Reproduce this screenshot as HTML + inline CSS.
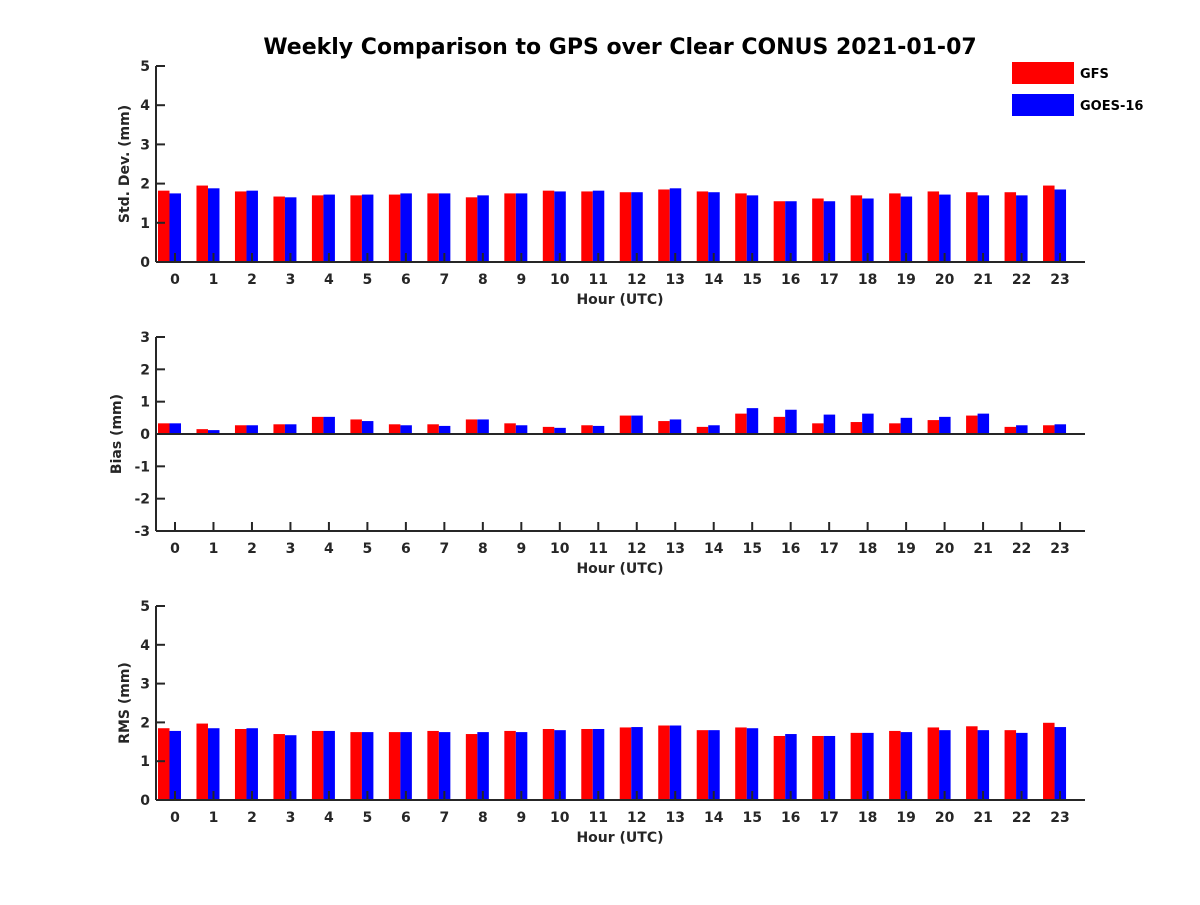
<!DOCTYPE html>
<html><head><meta charset="utf-8"><style>
body{margin:0;background:#fff}
svg text{font-family:"DejaVu Sans","Liberation Sans",sans-serif;font-weight:bold;fill:#262626}
</style></head><body>
<svg id="c" width="1200" height="900" xmlns="http://www.w3.org/2000/svg">
<text x="620" y="54" text-anchor="middle" style="font-size:22px;fill:#000">Weekly Comparison to GPS over Clear CONUS 2021-01-07</text>
<g>
<rect x="1012" y="62" width="62" height="22" fill="#ff0000"/>
<text x="1080" y="78" style="font-size:13px;fill:#000">GFS</text>
<rect x="1012" y="94" width="62" height="22" fill="#0000ff"/>
<text x="1080" y="110" style="font-size:13px;fill:#000">GOES-16</text>
</g>
</svg>
<script>
const hours=[0,1,2,3,4,5,6,7,8,9,10,11,12,13,14,15,16,17,18,19,20,21,22,23];
const stdGFS=[1.82,1.95,1.8,1.67,1.7,1.7,1.72,1.75,1.65,1.75,1.82,1.8,1.78,1.85,1.8,1.75,1.55,1.62,1.7,1.75,1.8,1.78,1.78,1.95];
const stdGOES=[1.75,1.88,1.82,1.65,1.72,1.72,1.75,1.75,1.7,1.75,1.8,1.82,1.78,1.88,1.78,1.7,1.55,1.55,1.62,1.67,1.72,1.7,1.7,1.85];
const biasGFS=[0.33,0.15,0.27,0.3,0.53,0.45,0.3,0.3,0.45,0.33,0.22,0.27,0.57,0.4,0.22,0.63,0.53,0.33,0.37,0.33,0.43,0.57,0.22,0.27];
const biasGOES=[0.33,0.12,0.27,0.3,0.53,0.4,0.27,0.25,0.45,0.27,0.19,0.25,0.57,0.45,0.27,0.8,0.75,0.6,0.63,0.5,0.53,0.63,0.27,0.3];
const rmsGFS=[1.85,1.97,1.83,1.7,1.78,1.75,1.75,1.78,1.7,1.78,1.83,1.83,1.87,1.92,1.8,1.87,1.65,1.65,1.73,1.78,1.87,1.9,1.8,1.99];
const rmsGOES=[1.78,1.85,1.85,1.67,1.78,1.75,1.75,1.75,1.75,1.75,1.8,1.83,1.88,1.92,1.8,1.85,1.7,1.65,1.73,1.75,1.8,1.8,1.73,1.88];
const stdTicks=[0,1,2,3,4,5];
const biasTicks=[-3,-2,-1,0,1,2,3];
const rmsTicks=[0,1,2,3,4,5];
const NS="http://www.w3.org/2000/svg",svg=document.getElementById('c');
function mk(t,a,p){const e=document.createElementNS(NS,t);for(const k in a)e.setAttribute(k,a[k]);(p||svg).appendChild(e);return e;}
const X0=156,X1=1085;
function xs(h){return 175+h*38.48;}
function panel(name,top,bot,ymin,ymax,ticks,r,b,ylabel,ylx){
  const g=mk('g',{});
  
  
  const ys=v=>bot-(v-ymin)/(ymax-ymin)*(bot-top);
  const base=ys(Math.max(ymin,0));
  hours.forEach((h,i)=>{
    const c=xs(h);
    [[r[i],'#ff0000',c-17,'gfs'],[b[i],'#0000ff',c-5.5,'goes']].forEach(([v,col,x,s])=>{
      const y=ys(v);
      const rc=mk('rect',{x:x,y:Math.min(y,base),width:11.5,height:Math.abs(base-y),fill:col},g);
      
      
    });
  });
  if(ymin<0){mk('line',{x1:X0,x2:X1,y1:base,y2:base,stroke:'#262626','stroke-width':2},g);}
  mk('line',{x1:X0,x2:X0,y1:top,y2:bot,stroke:'#262626','stroke-width':2},g);
  mk('line',{x1:X0,x2:X1,y1:bot,y2:bot,stroke:'#262626','stroke-width':2},g);
  ticks.forEach(t=>{const y=ys(t);
    mk('line',{x1:X0,x2:X0+9,y1:y,y2:y,stroke:'#262626','stroke-width':2},g);
    const tx=mk('text',{x:X0-6,y:y+5,'text-anchor':'end','font-size':14},g);tx.textContent=t;
    
    
  });
  hours.forEach(h=>{const x=xs(h);
    mk('line',{x1:x,x2:x,y1:bot,y2:bot-9,stroke:'#262626','stroke-width':2},g);
    const tx=mk('text',{x:x,y:bot+22,'text-anchor':'middle','font-size':14},g);tx.textContent=h;
    
    
  });
  const xl=mk('text',{x:620,y:bot+42,'text-anchor':'middle','font-size':14},g);xl.textContent='Hour (UTC)';
  
  
  const cy=(top+bot)/2;
  const yl=mk('text',{x:ylx,y:cy,'text-anchor':'middle','font-size':14,transform:'rotate(-90 '+ylx+' '+cy+')'},g);yl.textContent=ylabel;
  
  
}
panel('std',66,262,0,5,stdTicks,stdGFS,stdGOES,'Std. Dev. (mm)',129);
panel('bias',337,531,-3,3,biasTicks,biasGFS,biasGOES,'Bias (mm)',121);
panel('rms',606,800,0,5,rmsTicks,rmsGFS,rmsGOES,'RMS (mm)',129);
</script>
</body></html>
